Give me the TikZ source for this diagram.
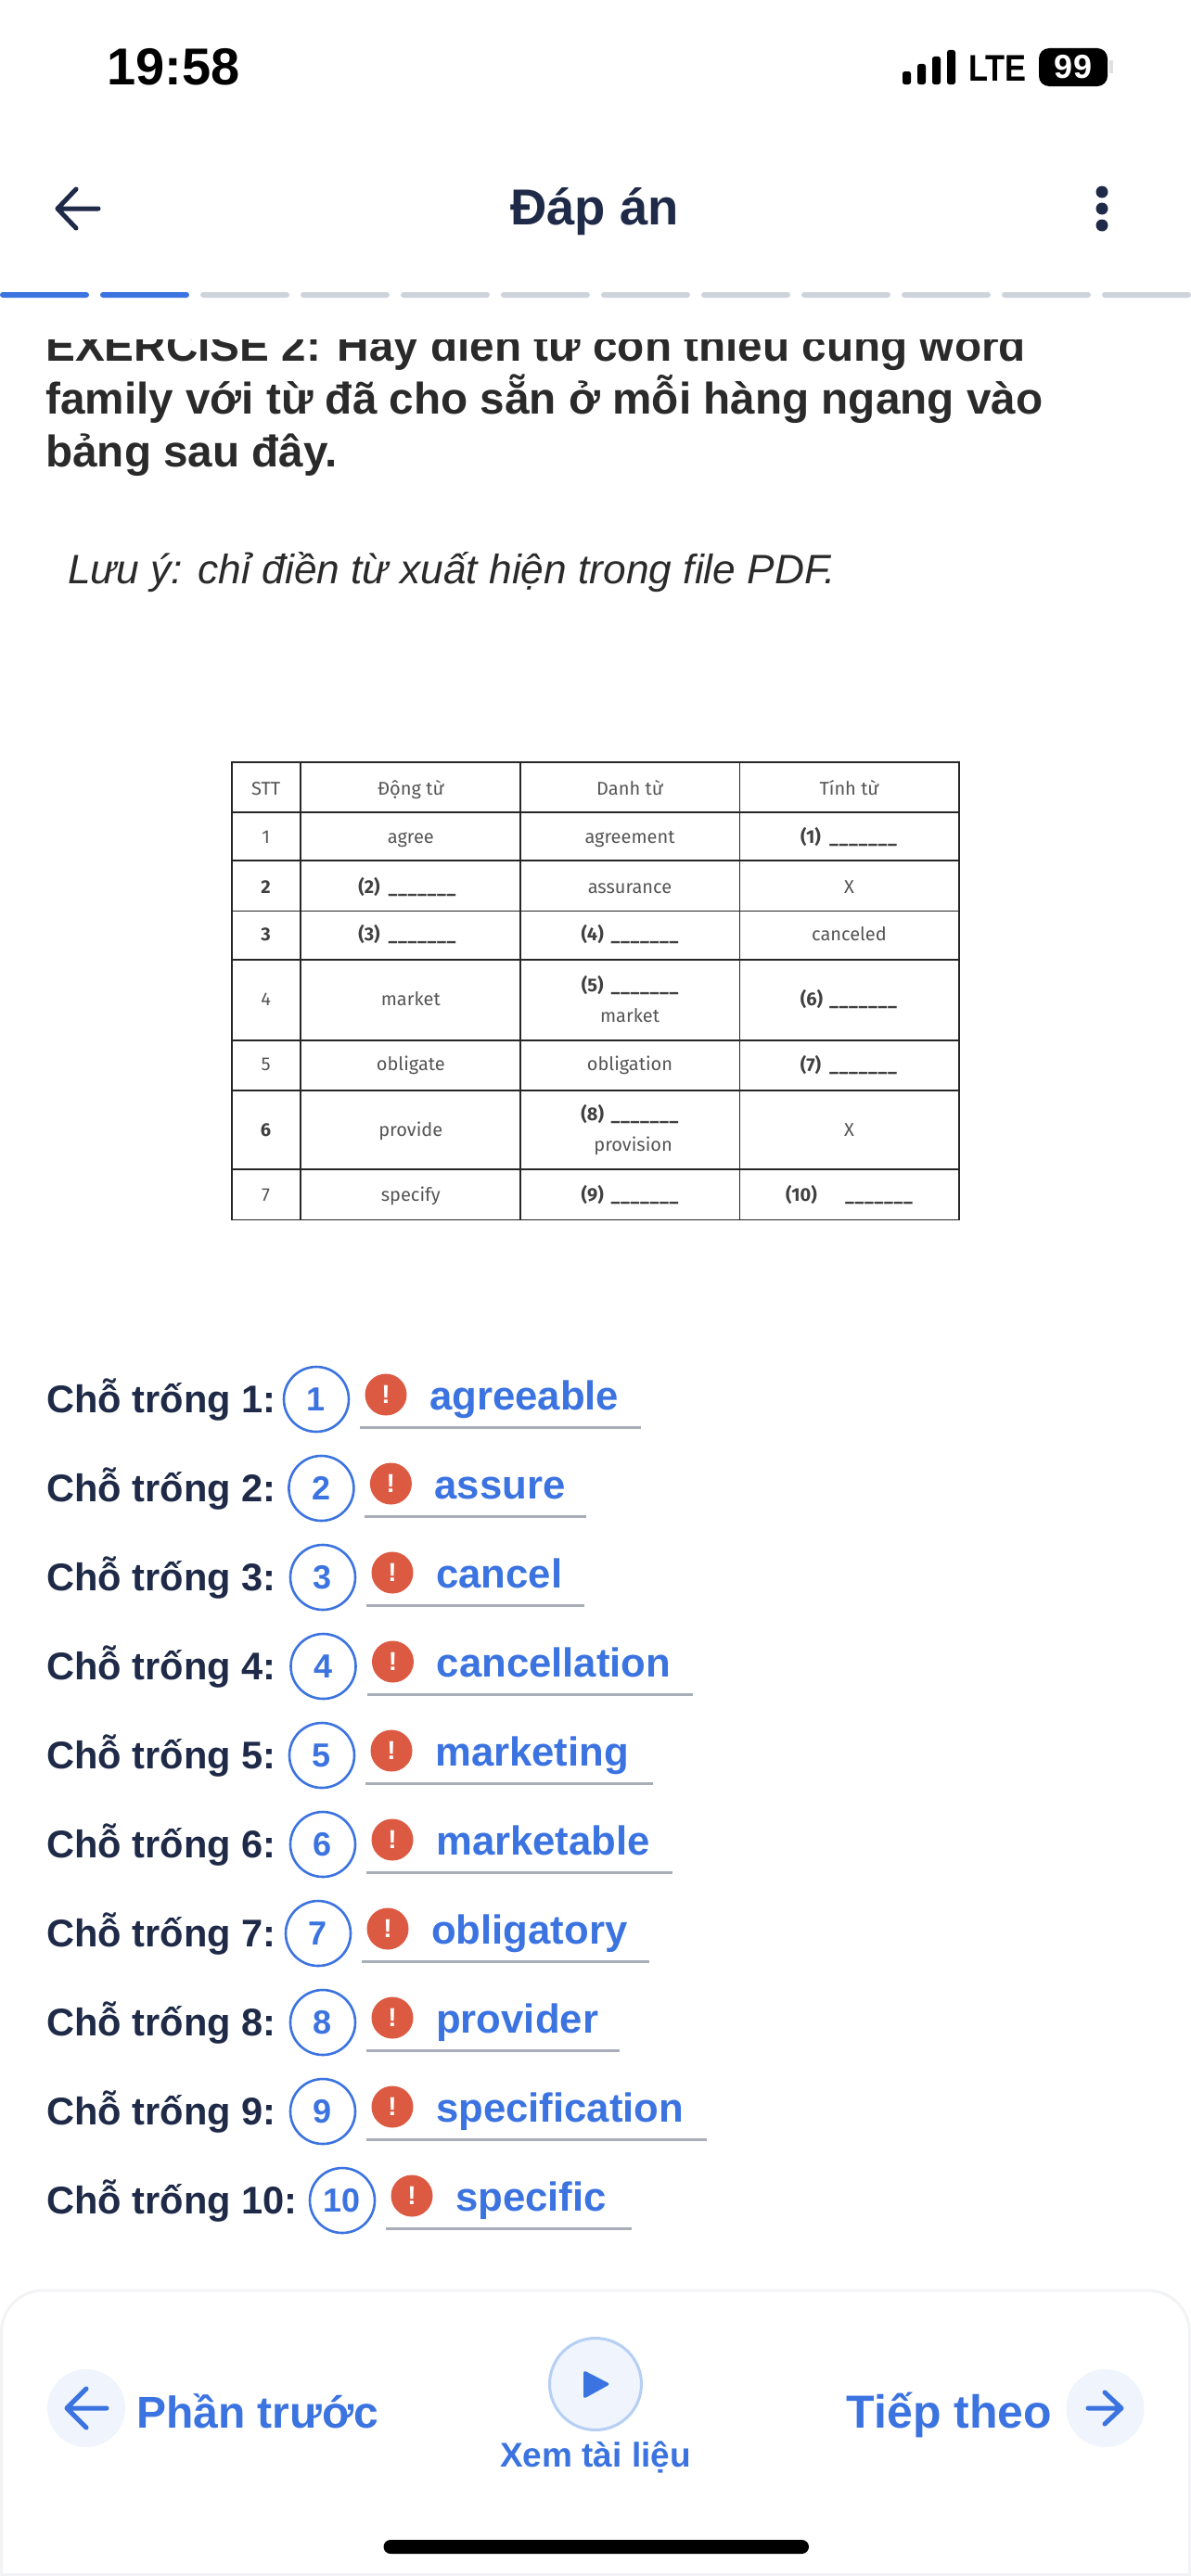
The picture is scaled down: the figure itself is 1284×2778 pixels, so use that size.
\documentclass[tikz,border=0pt]{standalone}
\usepackage{fontspec}
\setmainfont{Liberation Sans}
\newfontfamily\tablefont{Fira Sans}
\usetikzlibrary{shapes.geometric, arrows}
\definecolor{ink}{HTML}{1E2A47}
\definecolor{mainblue}{HTML}{3B73E0}
\definecolor{softblue}{HTML}{EFF4FD}
\definecolor{ringblue}{HTML}{B5CFF5}
\definecolor{barfill}{HTML}{CFD3DC}
\definecolor{linegray}{HTML}{A8ADB8}
\definecolor{alertred}{HTML}{DC5A42}
\definecolor{bodytext}{HTML}{2A2A2A}
\definecolor{paneledge}{HTML}{F2F3F5}
\definecolor{celltext}{HTML}{555555}
\newcommand{\px}[1]{\fontsize{#1}{#1}\selectfont}
\newcommand{\blankmark}{\_\kern.6pt\_\kern.6pt\_\kern.6pt\_\kern.6pt\_\kern.6pt\_\kern.6pt\_}
\tikzstyle{txt} = [inner sep=0pt, anchor=base west]
\tikzstyle{bodyline} = [txt, font=\px{47.7}\bfseries, text=bodytext]
\tikzstyle{rowlabel} = [txt, font=\px{41.6}\bfseries, text=ink]
\tikzstyle{answer} = [txt, font=\px{43.7}\bfseries, text=mainblue]
\tikzstyle{numring} = [circle, draw=mainblue, line width=2.6pt, minimum size=70pt, inner sep=0pt, font=\px{36}\bfseries, text=mainblue]
\tikzstyle{warn} = [circle, fill=alertred, minimum size=45pt, inner sep=0pt, font=\px{28}\bfseries, text=white]
\tikzstyle{answerline} = [linegray, line width=3pt]
\tikzstyle{navtext} = [inner sep=0pt, anchor=base, text=mainblue]
\tikzstyle{navdisc} = [circle, fill=softblue, minimum size=84pt, inner sep=0pt]
\tikzstyle{navarrow} = [mainblue, line width=5pt, line cap=round, line join=round]
\tikzstyle{cell} = [inner sep=0pt, text height=17pt, text depth=4pt, font=\tablefont\px{20}, text=celltext]
\tikzstyle{cellnum} = [inner sep=0pt, text height=17pt, text depth=4pt, font=\tablefont\px{20}\bfseries, text=black!75]
\tikzstyle{gap} = [inner sep=0pt, anchor=west, text height=17pt, text depth=4pt, font=\tablefont\px{19}\bfseries, text=black!75]

\begin{document}
\begin{tikzpicture}[x=1pt, y=-1pt]
	\useasboundingbox (0,0) rectangle (1284,2778);
	\fill[white] (0,0) rectangle (1284,2778);

	% status bar
	\node[inner sep=0pt, anchor=base, font=\px{56}\bfseries] (clock) at (187,91) {19:58};
	\foreach \bx/\by in {973/77, 989/69, 1005/61, 1021/54}
		\fill[black, rounded corners=2.5pt] (\bx,\by) rectangle (\bx+9,91);
	\node[txt, font=\px{40}\bfseries, xscale=0.86] (lte) at (1044,88) {LTE};
	\fill[black!12] (1196,65) rectangle (1200,79);
	\node[fill=black, rounded corners=11pt, minimum width=74pt, minimum height=41pt, inner sep=0pt, text=white, font=\px{36}\bfseries] (battery) at (1157,72.5) {99};

	% header
	\draw[ink, line width=5pt, line cap=round, line join=round] (106,225) -- (63,225) (82,204) -- (62,225) -- (82,246);
	\node[inner sep=0pt, anchor=base, font=\px{54.5}\bfseries, text=ink] (title) at (641,242) {Đáp án};
	\foreach \dy in {207, 225, 243}
		\fill[ink] (1188,\dy) circle (6.5);

	% progress
	\foreach \k in {0,...,11} {
		\ifnum\k<2 \def\segcol{mainblue}\else \def\segcol{barfill}\fi
		\fill[\segcol, rounded corners=3pt] (108*\k,315) rectangle (108*\k+96,321);
	}

	% exercise text
	\begin{scope}
		\clip (0,366) rectangle (1284,420);
		\node[bodyline] (ex1) at (49,389) {EXERCISE 2: Hãy điền từ còn thiếu cùng word};
	\end{scope}
	\node[bodyline] (ex2) at (49,446) {family với từ đã cho sẵn ở mỗi hàng ngang vào};
	\node[bodyline] (ex3) at (49,503) {bảng sau đây.};
	\node[txt, font=\px{44.3}\itshape, text=bodytext] (note) at (73,629) {Lưu ý: chỉ điền từ xuất hiện trong file PDF.};

	% table
	\draw[black!85, line width=1.8pt] (250,822) rectangle (1034,1315.5);
	\foreach \tx in {324, 561, 797.5}
		\draw[black!85, line width=1.6pt] (\tx,822) -- (\tx,1315.5);
	\foreach \ty in {876, 928, 982.5, 1035, 1122, 1176, 1261}
		\draw[black!85, line width=1.8pt] (250,\ty) -- (1034,\ty);
	\foreach \cx/\cy/\ctext in {286.6/851/STT, 442.8/851/Động từ, 679/851/Danh từ, 915.5/851/Tính từ,
		286.6/902.6/1, 442.8/902.6/agree, 679/902.6/agreement,
		679/956.7/assurance, 915.5/956.7/X, 915.5/1008/canceled,
		286.6/1078/4, 442.8/1078/market, 679/1095.5/market,
		286.6/1148/5, 442.8/1148/obligate, 679/1148/obligation,
		442.8/1219.4/provide, 682.6/1235/provision, 915.5/1219.4/X,
		286.6/1289/7, 442.8/1289/specify}
		\node[cell] at (\cx,\cy) {\ctext};
	\foreach \cy/\ctext in {956.7/2, 1008/3, 1219.4/6}
		\node[cellnum] at (286.6,\cy) {\ctext};
	\foreach \n/\cx/\cy/\gx in {1/874/902.6/894, 2/398/956.7/418.5, 3/398/1008/418.5, 4/638.7/1008/658.5, 5/638.7/1063/658.5,
		6/875/1078/894, 7/874/1148.5/894, 8/638.7/1202/658.5, 9/638.7/1289/658.5, 10/864/1289/911} {
		\node[cellnum] (cellgap\n) at (\cx,\cy) {(\n)};
		\node[gap] at (\gx,\cy) {\blankmark};
	}

	% answers
	\foreach \n/\rx/\ex/\word in {1/416/691/agreeable, 2/421.4/632/assure, 3/423/630/cancel, 4/423.5/747/cancellation, 5/422/704/marketing,
		6/423/725/marketable, 7/418/700/obligatory, 8/423/668/provider, 9/423/762/specification, 10/444/681/specific} {
		\pgfmathsetmacro{\ry}{1509+96*(\n-1)}
		\node[rowlabel] (label\n) at (50,\ry+14) {Chỗ trống \n:};
		\node[numring] (ring\n) at (\rx-75,\ry) {\n};
		\node[warn] (warn\n) at (\rx,\ry-5) {!};
		\node[answer] (answer\n) at (\rx+47,\ry+11) {\word};
		\draw[answerline] (\rx-28,\ry+30) -- (\ex,\ry+30);
	}

	% bottom panel
	\draw[paneledge, line width=3pt, fill=white, rounded corners=45pt] (1.5,2790) -- (1.5,2470) -- (1282.5,2470) -- (1282.5,2790);
	\fill[paneledge] (0,2775) rectangle (1284,2778);
	\node[navdisc] (prevdisc) at (93,2597) {};
	\node[navdisc] (nextdisc) at (1191.5,2597) {};
	\draw[navarrow] (115,2597) -- (73,2597) (93,2576) -- (72,2597) -- (93,2618);
	\draw[navarrow] (1173,2597) -- (1208,2597) (1191,2580) -- (1209,2597) -- (1191,2614);
	\node[navtext, font=\px{48}\bfseries] (prevtext) at (277.5,2618) {Phần trước};
	\node[navtext, font=\px{50}\bfseries] (nexttext) at (1023.5,2618) {Tiếp theo};
	\node[circle, draw=ringblue, fill=softblue, line width=3pt, minimum size=99pt, inner sep=0pt] (play) at (642,2571) {};
	\fill[mainblue, rounded corners=3pt] (629,2556) -- (658,2571) -- (629,2587) -- cycle;
	\node[inner sep=0pt, anchor=base, font=\px{37}\bfseries, text=mainblue] (doc) at (642,2660) {Xem tài liệu};
	\fill[black, rounded corners=7.5pt] (413.5,2739) rectangle (872,2754);
\end{tikzpicture}
\end{document}
